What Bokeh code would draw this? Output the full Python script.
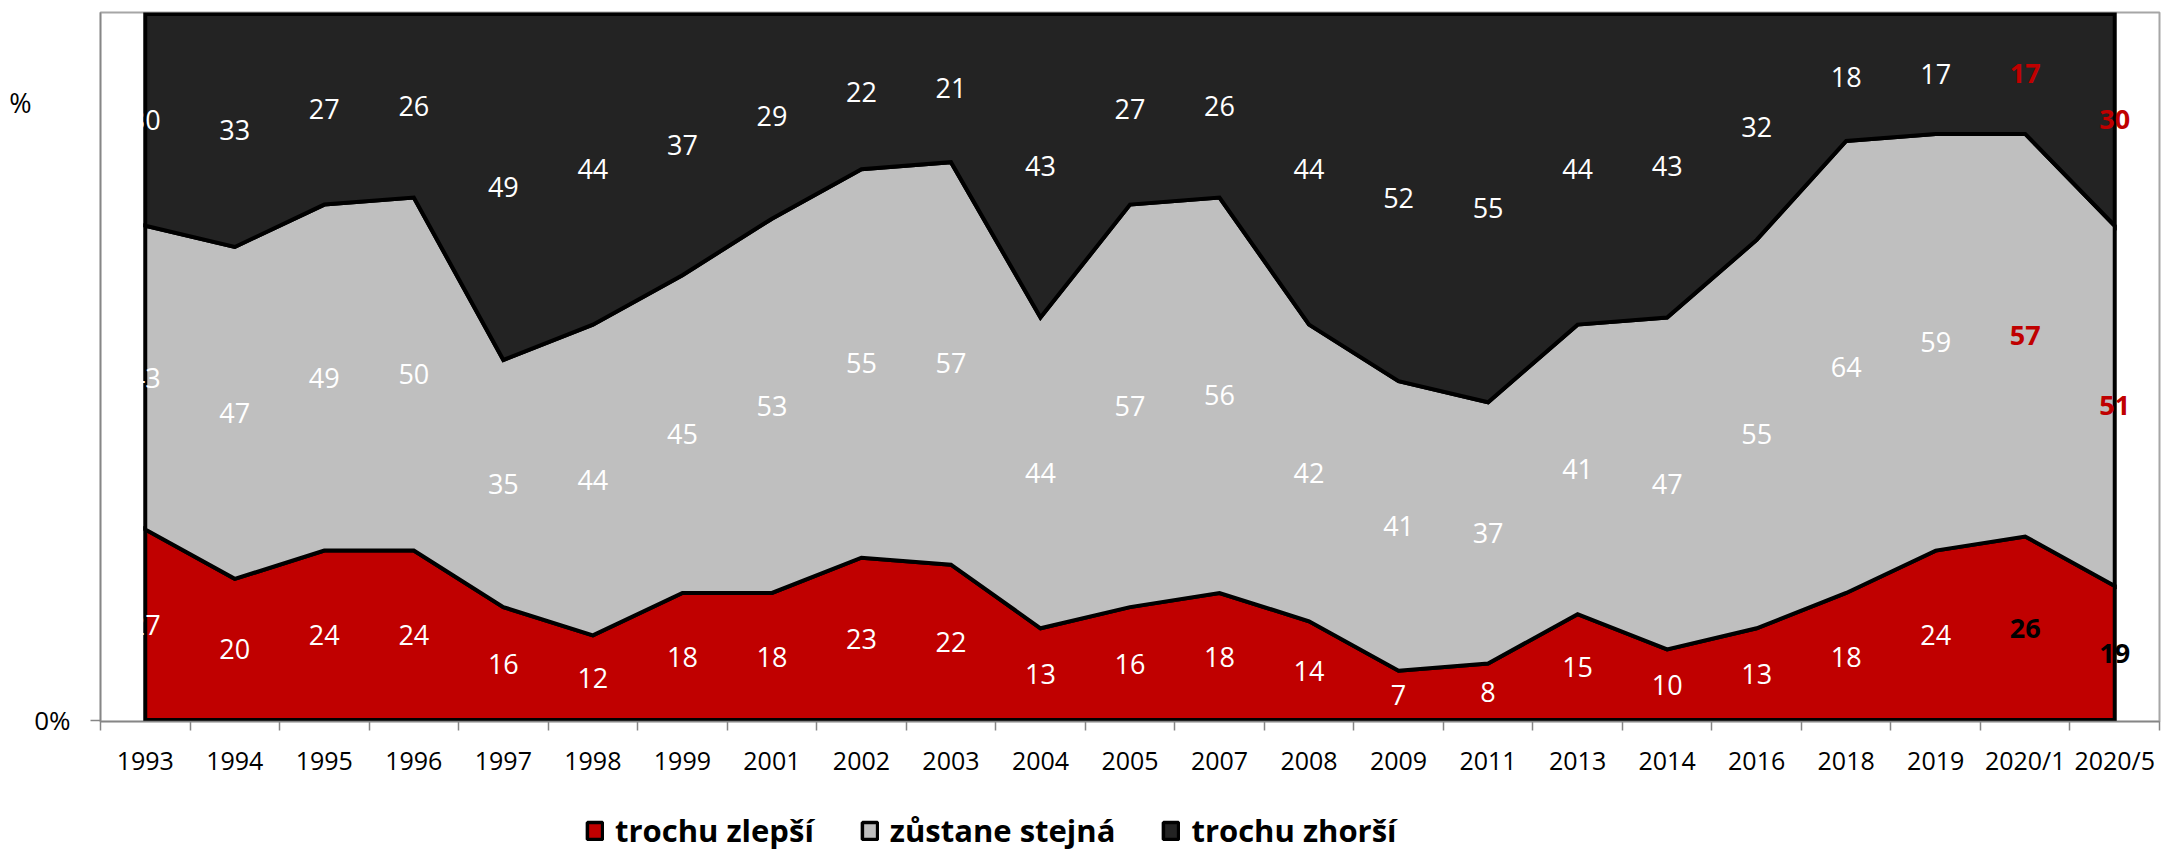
from bokeh.plotting import figure
from bokeh.layouts import column
from bokeh.models import Range1d, FixedTicker, Legend, LegendItem, LinearAxis, ColumnDataSource
from bokeh.core.properties import value
from bokeh.embed import file_html
from bokeh.resources import INLINE

# ---------------- data ----------------
categories = ["1993", "1994", "1995", "1996", "1997", "1998", "1999", "2001", "2002",
              "2003", "2004", "2005", "2007", "2008", "2009", "2011", "2013", "2014",
              "2016", "2018", "2019", "2020/1", "2020/5"]
better = [27, 20, 24, 24, 16, 12, 18, 18, 23, 22, 13, 16, 18, 14, 7, 8, 15, 10, 13, 18, 24, 26, 19]
same = [43, 47, 49, 50, 35, 44, 45, 53, 55, 57, 44, 57, 56, 42, 41, 37, 41, 47, 55, 64, 59, 57, 51]
worse = [30, 33, 27, 26, 49, 44, 37, 29, 22, 21, 43, 27, 26, 44, 52, 55, 44, 43, 32, 18, 17, 17, 30]
series_names = ["trochu zlepší", "zůstane stejná", "trochu zhorší"]
highlighted = ["2020/1", "2020/5"]
y_unit = "%"
zero_label = "0%"

# ---------------- styles ----------------
series_colors = ["#C00000", "#BFBFBF", "#232323"]
hl_colors = ["#000000", "#C00000", "#C00000"]
FONT = "Open Sans"
AXIS_GREY = "#868686"
UNIT_POS = 87.5  # height of the "%" unit label on the value scale
W, H_CHART, H_LEG = 2162, 790, 61

n = len(categories)
xc = [i + 0.5 for i in range(n)]
series = [better, same, worse]

p = figure(width=W, height=H_CHART, output_backend="svg", toolbar_location=None,
           x_range=Range1d(0, n), y_range=Range1d(-0.2, 100.2))
p.min_border = 0
p.min_border_left = 100
p.min_border_right = 3
p.min_border_top = 12
p.min_border_bottom = H_CHART - 721
p.background_fill_color = "white"
p.border_fill_color = "white"
p.outline_line_color = "#A6A6A6"
p.outline_line_width = 2
p.xgrid.visible = False
p.ygrid.visible = False

bottom = [0] * n
for k, (vals, col) in enumerate(zip(series, series_colors)):
    top = [b + v for b, v in zip(bottom, vals)]
    xs = xc + xc[::-1]
    ys = top + bottom[::-1]
    p.patch(xs, ys, fill_color=col, line_color="black", line_width=4, line_join="miter")
    # data labels in the middle of each band
    mids = [b + v / 2 for b, v in zip(bottom, vals)]
    norm = dict(x=[], y=[], t=[])
    bold = dict(x=[], y=[], t=[])
    for c, x, y, v in zip(categories, xc, mids, vals):
        d = bold if c in highlighted else norm
        d["x"].append(x); d["y"].append(y); d["t"].append(str(v))
    p.text(x="x", y="y", text="t", source=ColumnDataSource(norm),
           text_color="white", text_font=value(FONT), text_font_size="27px",
           text_align="center", text_baseline="middle")
    p.text(x="x", y="y", text="t", source=ColumnDataSource(bold),
           text_color=hl_colors[k], text_font=value(FONT),
           text_font_size="27px", text_font_style="bold",
           text_align="center", text_baseline="middle")
    bottom = top

# x axis: labels at category centres, ticks at category boundaries
xa = p.xaxis[0]
xa.ticker = FixedTicker(ticks=xc, minor_ticks=list(range(n + 1)))
xa.major_label_overrides = {x: c for x, c in zip(xc, categories)}
xa.major_tick_line_color = None
xa.major_tick_out = 0
xa.major_tick_in = 0
xa.minor_tick_out = 9
xa.minor_tick_in = 0
xa.minor_tick_line_color = AXIS_GREY
xa.minor_tick_line_width = 1.5
xa.axis_line_color = AXIS_GREY
xa.axis_line_width = 1.5
xa.major_label_text_font = FONT
xa.major_label_text_font_size = "25px"
xa.major_label_text_color = "black"
xa.major_label_standoff = 12

ya = p.yaxis[0]
ya.ticker = FixedTicker(ticks=[0])
ya.major_label_overrides = {0: zero_label}
ya.major_tick_out = 10
ya.major_tick_in = 0
ya.major_tick_line_color = AXIS_GREY
ya.major_tick_line_width = 1.5
ya.minor_tick_line_color = None
ya.axis_line_color = AXIS_GREY
ya.axis_line_width = 1.5
ya.major_label_text_font = FONT
ya.major_label_text_font_size = "26px"
ya.major_label_text_color = "black"
ya.major_label_standoff = 20

# outer left axis carrying only the "%" unit label
ua = LinearAxis(ticker=FixedTicker(ticks=[UNIT_POS]), major_label_overrides={UNIT_POS: y_unit},
                axis_line_color=None, major_tick_line_color=None, minor_tick_line_color=None,
                major_tick_out=0, major_tick_in=0, major_label_standoff=0,
                major_label_text_font=FONT, major_label_text_font_size="27px",
                major_label_text_color="black")
p.add_layout(ua, "left")

# ---------------- legend strip (frame aligned with the chart's frame) ----------------
lf = figure(width=W, height=H_LEG, output_backend="svg", toolbar_location=None,
            x_range=Range1d(0, 1), y_range=Range1d(0, 1),
            x_axis_type=None, y_axis_type=None)
lf.min_border = 0
lf.outline_line_color = None
lf.xgrid.visible = False
lf.ygrid.visible = False
# swatch renderers: a tiny polygon lying outside the strip's visible range,
# used only so the legend can draw its swatches
leg_renderers = [lf.patch(x=[2, 3, 3], y=[2, 2, 3], fill_color=col, line_color="black",
                          line_width=3.5)
                 for col in series_colors]
legend = Legend(items=[LegendItem(label=nm, renderers=[r]) for nm, r in zip(series_names, leg_renderers)],
                orientation="horizontal", location=(485, 0), padding=0, margin=0,
                spacing=46, glyph_width=19, glyph_height=21, label_standoff=11,
                label_text_font=FONT, label_text_font_style="bold", label_text_font_size="31px",
                label_text_color="black",
                border_line_color=None, background_fill_alpha=0)
lf.add_layout(legend)

open("out.html", "w").write(file_html(column(p, lf, spacing=0), INLINE))
